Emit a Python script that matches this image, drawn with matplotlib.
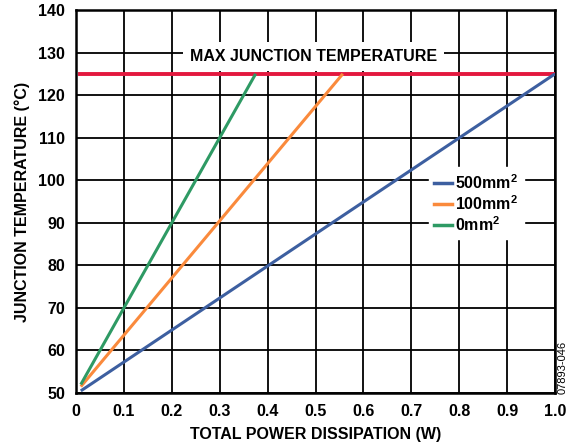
import matplotlib
matplotlib.use('Agg')
import matplotlib.pyplot as plt
from matplotlib.lines import Line2D

plt.rcParams['font.family'] = ['Liberation Sans', 'DejaVu Sans']
plt.rcParams['font.weight'] = 'bold'
plt.rcParams['mathtext.fontset'] = 'custom'
plt.rcParams['mathtext.bf'] = 'Liberation Sans:bold'
plt.rcParams['mathtext.rm'] = 'Liberation Sans:bold'
plt.rcParams['mathtext.default'] = 'bf'

# data
series_names = ['500mm$^{2}$', '100mm$^{2}$', '0mm$^{2}$']
power_x = [[0.01, 1.0], [0.01, 0.557], [0.01, 0.375]]
temp_y = [[50.5, 125], [51.5, 125], [52, 125]]
colors = ['#3D5FA0', '#FA8A3C', '#2E9A64']
max_temp = 125
max_x = [0.008, 1.0]
xticks = [0, 0.1, 0.2, 0.3, 0.4, 0.5, 0.6, 0.7, 0.8, 0.9, 1.0]
xtick_labels = ['0', '0.1', '0.2', '0.3', '0.4', '0.5', '0.6', '0.7', '0.8', '0.9', '1.0']
yticks = [50, 60, 70, 80, 90, 100, 110, 120, 130, 140]

fs = 11.5

fig = plt.figure(figsize=(5.72, 4.47), dpi=100)
ax = fig.add_axes([0.1329, 0.1208, 0.8374, 0.8568])
ax.set_xlim(0, 1.0)
ax.set_ylim(50, 140)
ax.set_xticks(xticks)
ax.set_xticklabels(xtick_labels)
ax.set_yticks(yticks)
ax.tick_params(length=0, labelsize=fs, pad=8)
for lab in ax.get_xticklabels() + ax.get_yticklabels():
    lab.set_fontweight('bold')
ax.grid(True, color='black', linewidth=1.3)
ax.set_axisbelow(True)
for s in ax.spines.values():
    s.set_linewidth(1.8)

ax.plot(max_x, [max_temp, max_temp], color='#E3183E', linewidth=2.8, zorder=3)
for xs, ys, c in zip(power_x, temp_y, colors):
    ax.plot(xs, ys, color=c, linewidth=2.2, zorder=4, solid_capstyle='butt')

ax.text(0.495, 129.0, 'MAX JUNCTION TEMPERATURE', ha='center', va='center',
        fontsize=fs, fontweight='bold', zorder=2,
        bbox=dict(facecolor='white', edgecolor='none', pad=5))

handles = [Line2D([], [], color=c, linewidth=2.5) for c in colors]
leg = ax.legend(handles, series_names, loc='upper left', bbox_to_anchor=(0.72, 0.61),
                frameon=True, fancybox=False, edgecolor='white', facecolor='white',
                framealpha=1, handlelength=1.1, handletextpad=0.2, labelspacing=0.15,
                borderpad=0.35, prop={'size': fs, 'weight': 'bold'})
leg.set_zorder(2)

ax.set_xlabel('TOTAL POWER DISSIPATION (W)', fontsize=fs, fontweight='bold', labelpad=6)
ax.set_ylabel('JUNCTION TEMPERATURE (°C)', fontsize=fs, fontweight='bold', labelpad=6)

fig.text(0.984, 0.177, '07893-046', rotation=90, fontsize=8, fontweight='normal',
         ha='center', va='center')

fig.savefig('out.png', dpi=100)
